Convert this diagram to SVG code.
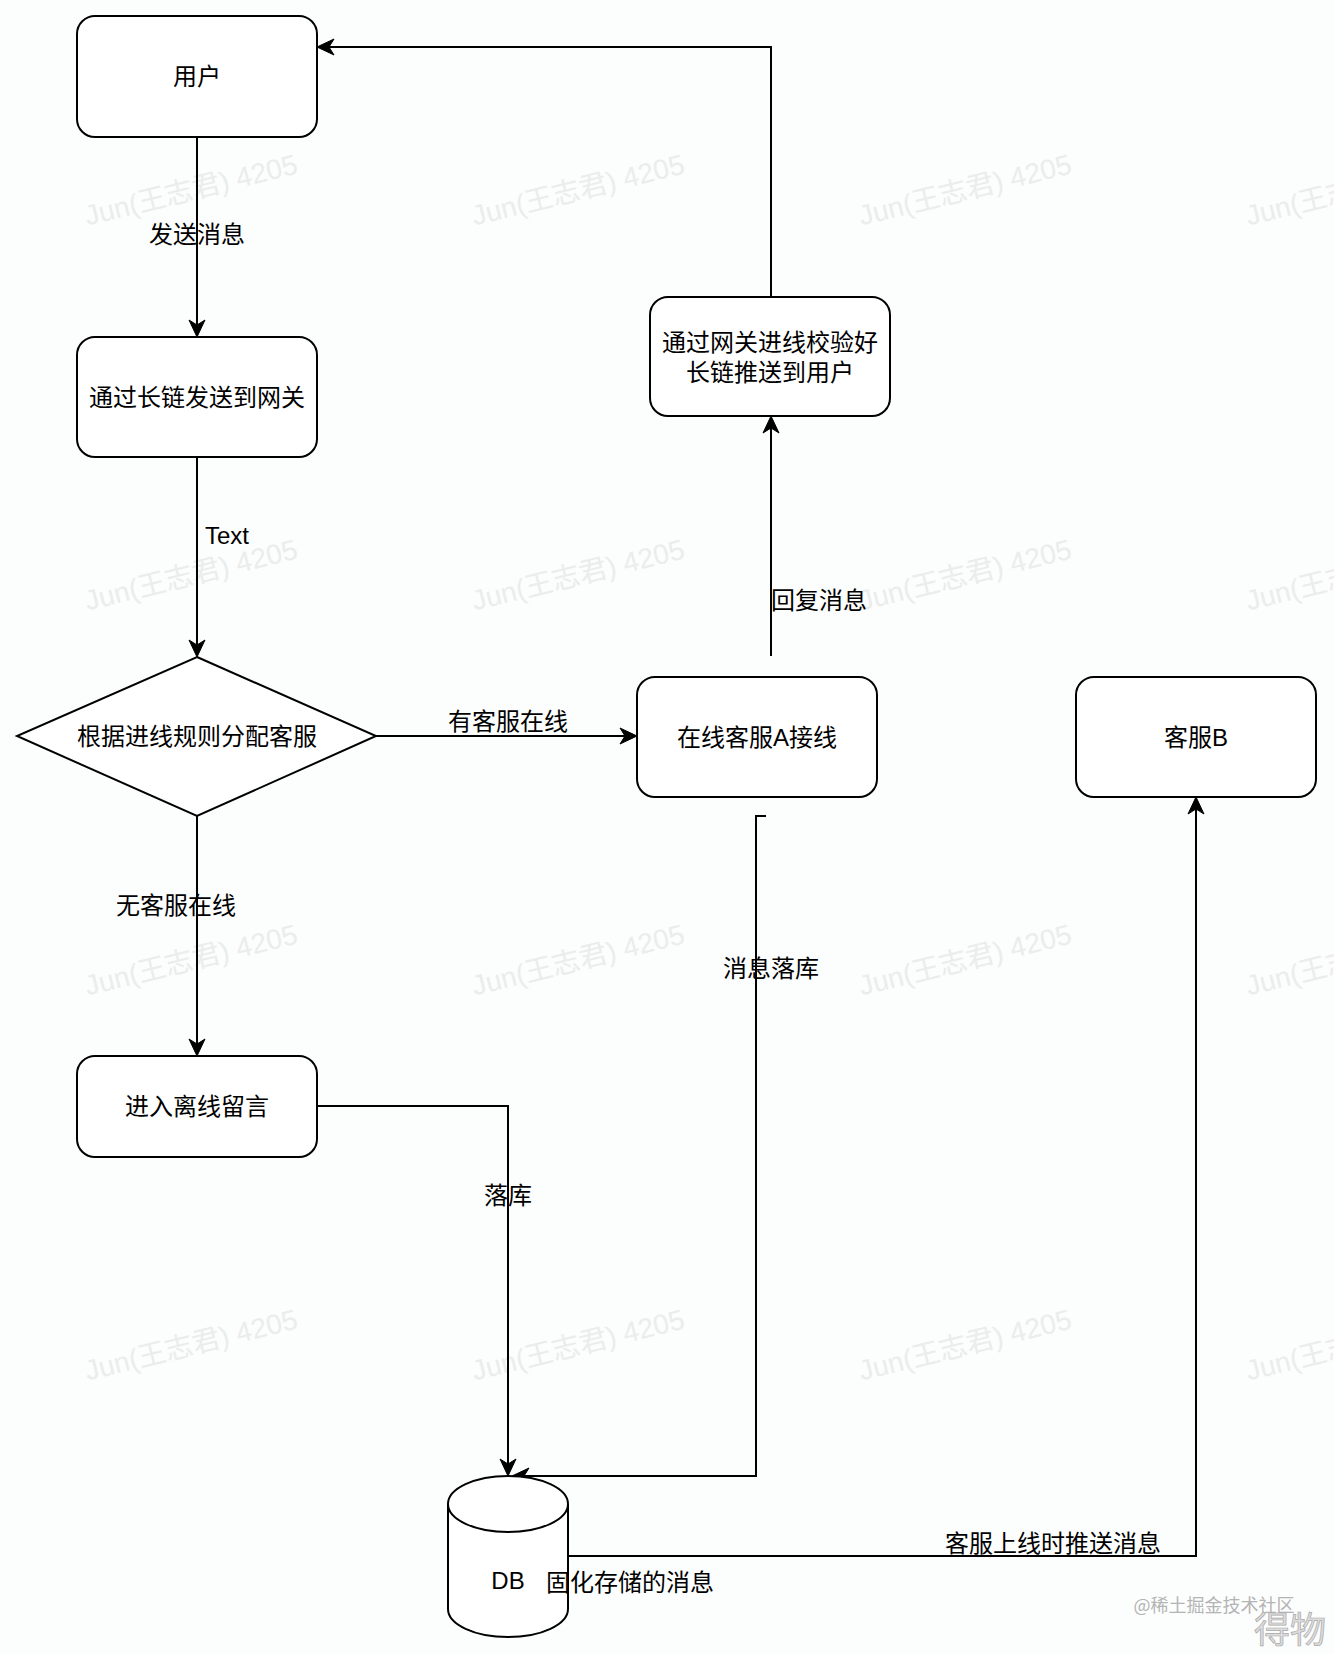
<svg xmlns="http://www.w3.org/2000/svg" width="1334" height="1654" viewBox="0 0 1334 1654">
<style>
.node{fill:#ffffff;stroke:#000000;stroke-width:2}
.edge{fill:none;stroke:#000000;stroke-width:2}
.t{font-family:"Liberation Sans","Noto Sans CJK SC",sans-serif;font-size:24px;fill:#000000;text-anchor:middle;dominant-baseline:central}
.wm{font-family:"Liberation Sans","Noto Sans CJK SC",sans-serif;font-size:28px;fill:#ebecec;text-anchor:middle;dominant-baseline:central}
</style>
<defs>
<marker id="arr" markerUnits="userSpaceOnUse" viewBox="-12 -10 20 20" refX="0" refY="0" markerWidth="20" markerHeight="20" orient="auto">
<path d="M6,0 L-11,-8 L-6,0 L-11,8 Z" fill="#000000" stroke="#000000" stroke-width="1"/>
</marker>
</defs>
<rect x="0" y="0" width="1334" height="1654" fill="#fcfdfd"/>
<g id="watermarks">
<text class="wm" transform="translate(191,190) rotate(-14)">Jun(王志君) 4205</text>
<text class="wm" transform="translate(578,190) rotate(-14)">Jun(王志君) 4205</text>
<text class="wm" transform="translate(965,190) rotate(-14)">Jun(王志君) 4205</text>
<text class="wm" transform="translate(1352,190) rotate(-14)">Jun(王志君) 4205</text>
<text class="wm" transform="translate(191,575) rotate(-14)">Jun(王志君) 4205</text>
<text class="wm" transform="translate(578,575) rotate(-14)">Jun(王志君) 4205</text>
<text class="wm" transform="translate(965,575) rotate(-14)">Jun(王志君) 4205</text>
<text class="wm" transform="translate(1352,575) rotate(-14)">Jun(王志君) 4205</text>
<text class="wm" transform="translate(191,960) rotate(-14)">Jun(王志君) 4205</text>
<text class="wm" transform="translate(578,960) rotate(-14)">Jun(王志君) 4205</text>
<text class="wm" transform="translate(965,960) rotate(-14)">Jun(王志君) 4205</text>
<text class="wm" transform="translate(1352,960) rotate(-14)">Jun(王志君) 4205</text>
<text class="wm" transform="translate(191,1345) rotate(-14)">Jun(王志君) 4205</text>
<text class="wm" transform="translate(578,1345) rotate(-14)">Jun(王志君) 4205</text>
<text class="wm" transform="translate(965,1345) rotate(-14)">Jun(王志君) 4205</text>
<text class="wm" transform="translate(1352,1345) rotate(-14)">Jun(王志君) 4205</text>
</g>
<g id="connectors">
<path class="edge" d="M197,137 L197,331" marker-end="url(#arr)"/>
<path class="edge" d="M197,457 L197,651" marker-end="url(#arr)"/>
<path class="edge" d="M376,736 L631,736" marker-end="url(#arr)"/>
<path class="edge" d="M197,816 L197,1050" marker-end="url(#arr)"/>
<path class="edge" d="M317,1106 L508,1106 L508,1470" marker-end="url(#arr)"/>
<path class="edge" d="M766,816 L756,816 L756,1476 L518,1476" marker-end="url(#arr)"/>
<path class="edge" d="M771,656 L771,422" marker-end="url(#arr)"/>
<path class="edge" d="M771,297 L771,47 L323,47" marker-end="url(#arr)"/>
<path class="edge" d="M568,1556 L1196,1556 L1196,803" marker-end="url(#arr)"/>
<text class="t" x="197" y="234">发送消息</text>
<text class="t" x="227" y="535">Text</text>
<text class="t" x="508" y="721">有客服在线</text>
<text class="t" x="176" y="905">无客服在线</text>
<text class="t" x="508" y="1195">落库</text>
<text class="t" x="771" y="968">消息落库</text>
<text class="t" x="819" y="600">回复消息</text>
<text class="t" x="1053" y="1543">客服上线时推送消息</text>
</g>
<g id="user">
<rect class="node" x="77" y="16" width="240" height="121" rx="18"/>
<text class="t" x="197" y="76">用户</text>
</g>
<g id="gateway">
<rect class="node" x="77" y="337" width="240" height="120" rx="18"/>
<text class="t" x="197" y="397">通过长链发送到网关</text>
</g>
<g id="decision">
<path class="node" d="M197,657 L376,736 L197,816 L17,736 Z"/>
<text class="t" x="197" y="736">根据进线规则分配客服</text>
</g>
<g id="agentA">
<rect class="node" x="637" y="677" width="240" height="120" rx="18"/>
<text class="t" x="757" y="737">在线客服A接线</text>
</g>
<g id="push">
<rect class="node" x="650" y="297" width="240" height="119" rx="18"/>
<text class="t" x="770" y="342">通过网关进线校验好</text>
<text class="t" x="770" y="372">长链推送到用户</text>
</g>
<g id="agentB">
<rect class="node" x="1076" y="677" width="240" height="120" rx="18"/>
<text class="t" x="1196" y="737">客服B</text>
</g>
<g id="offline">
<rect class="node" x="77" y="1056" width="240" height="101" rx="18"/>
<text class="t" x="197" y="1106">进入离线留言</text>
</g>
<g id="db">
<path class="node" d="M448,1504 A60,28 0 0 1 568,1504 L568,1609 A60,28 0 0 1 448,1609 Z"/>
<path class="edge" d="M448,1504 A60,28 0 0 0 568,1504"/>
<text class="t" x="508" y="1580">DB</text>
<text class="t" x="630" y="1582">固化存储的消息</text>
</g>
<g id="credits">
<text x="1214" y="1604" style="font-family:'Noto Sans CJK SC',sans-serif;font-size:18px;fill:#b4b4b4;text-anchor:middle;dominant-baseline:central">@稀土掘金技术社区</text>
<text x="1290" y="1627" style="font-family:'Noto Sans CJK SC',sans-serif;font-size:36px;fill:#dcdcdc;stroke:#a8a8a8;stroke-width:0.7;text-anchor:middle;dominant-baseline:central">得物</text>
</g>
</svg>
